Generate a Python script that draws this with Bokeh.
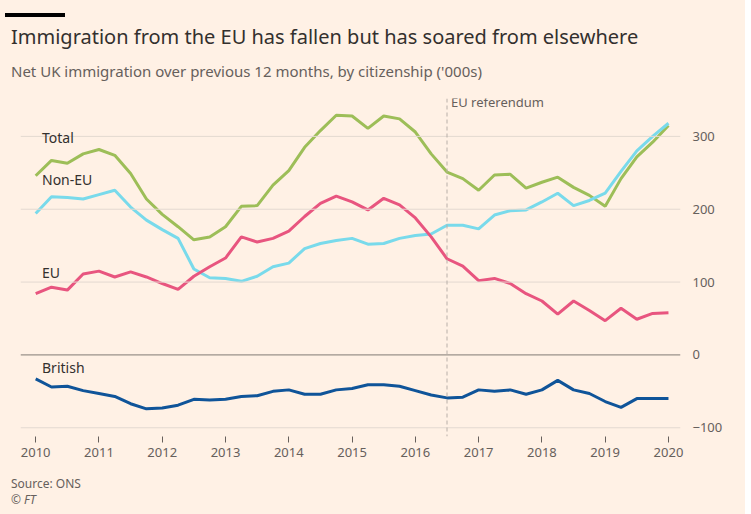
from bokeh.plotting import figure
from bokeh.layouts import column
from bokeh.models import Div, LinearAxis, Span, Label, FixedTicker
from bokeh.embed import file_html
from bokeh.resources import INLINE

quarters = [2010 + 0.25 * i for i in range(41)]
total = [246,267,263,276,282,274,249,214,193,176,158,162,176,204,205,233,253,285,308,329,328,311,328,324,306,276,251,242,226,247,248,229,237,244,230,219,204,242,272,292,315]
non_eu = [194,217,216,214,220,226,203,185,172,160,118,106,105,101,108,121,126,146,153,157,160,152,153,160,164,166,178,178,173,192,198,199,210,222,205,212,222,252,280,300,318]
eu = [84,93,89,111,115,107,114,107,98,90,108,121,133,162,155,160,170,190,208,218,210,199,215,206,188,162,132,122,102,105,98,84,74,56,74,61,47,64,49,57,58]
british = [-33,-44,-43,-49,-53,-57,-67,-74,-73,-69,-61,-62,-61,-57,-56,-50,-48,-54,-54,-48,-46,-41,-41,-43,-49,-55,-59,-58,-48,-50,-48,-54,-48,-35,-48,-53,-64,-72,-60,-60,-60]
years = list(range(2010, 2021))
yticks = [-100, 0, 100, 200, 300]

BG = "#FFF1E5"
FONT = "Noto Sans"

p = figure(width=735, height=377, output_backend="svg", toolbar_location=None,
           x_range=(2009.76, 2020.19), y_range=(-112, 352),
           background_fill_color=BG, border_fill_color=BG,
           min_border_left=20, min_border_right=55, min_border_top=4, min_border_bottom=35,
           x_axis_location=None, y_axis_location=None)
p.outline_line_color = None
p.xgrid.visible = False
p.ygrid.visible = False

xa = LinearAxis(ticker=FixedTicker(ticks=years))
xa.axis_line_color = None
xa.major_tick_line_color = "#66605C"
xa.major_tick_out = 6
xa.major_tick_in = 0
xa.minor_tick_line_color = None
xa.major_label_text_font = FONT
xa.major_label_text_font_size = "13px"
xa.major_label_text_color = "#66605C"
p.add_layout(xa, "below")

ya = LinearAxis(ticker=FixedTicker(ticks=yticks))
ya.axis_line_color = None
ya.major_tick_line_color = None
ya.minor_tick_line_color = None
ya.major_label_text_font = FONT
ya.major_label_text_font_size = "13px"
ya.major_label_text_color = "#66605C"
ya.major_label_standoff = 6
p.add_layout(ya, "right")
for t in yticks:
    p.add_layout(Span(location=t, dimension="width",
                      line_color="#807A75" if t == 0 else "#E3D9D0", line_width=1))

p.add_layout(Span(location=2016.5, dimension="height", line_color="#B8AFA8",
                  line_dash="4 3", line_width=1))
p.add_layout(Label(x=2016.5, y=335, text="EU referendum", x_offset=4,
                   text_font=FONT, text_font_size="13px", text_color="#66605C"))

series = [(total, "#9DBE58", "Total", 2010.1, 285),
          (non_eu, "#79DAEB", "Non-EU", 2010.1, 228),
          (eu, "#E8557F", "EU", 2010.1, 100),
          (british, "#0F5499", "British", 2010.1, -30)]
for vals, col, name, lx, ly in series:
    p.line(quarters, vals, line_color=col, line_width=3)
    p.add_layout(Label(x=lx, y=ly, text=name, text_font=FONT,
                       text_font_size="14px", text_color="#33302E"))

bar = Div(text='<div style="width:60px;height:4px;background:#000;"></div>',
          width=735, height=8, styles={"background": BG})
title = Div(text="Immigration from the EU has fallen but has soared from elsewhere",
            width=735, height=28,
            styles={"background": BG, "font-family": FONT, "font-size": "20px",
                    "color": "#33302E", "padding-left": "6px"})
sub = Div(text="Net UK immigration over previous 12 months, by citizenship ('000s)",
          width=735, height=28,
          styles={"background": BG, "font-family": FONT, "font-size": "15px",
                  "color": "#66605C", "padding-left": "6px"})
src = Div(text="Source: ONS<br><i>© FT</i>", width=735, height=40,
          styles={"background": BG, "font-family": FONT, "font-size": "12px",
                  "color": "#66605C", "padding-left": "6px", "line-height": "16px"})

layout = column(bar, title, sub, p, src, spacing=0, styles={"background": BG})
open("out.html", "w").write(file_html(layout, INLINE))
